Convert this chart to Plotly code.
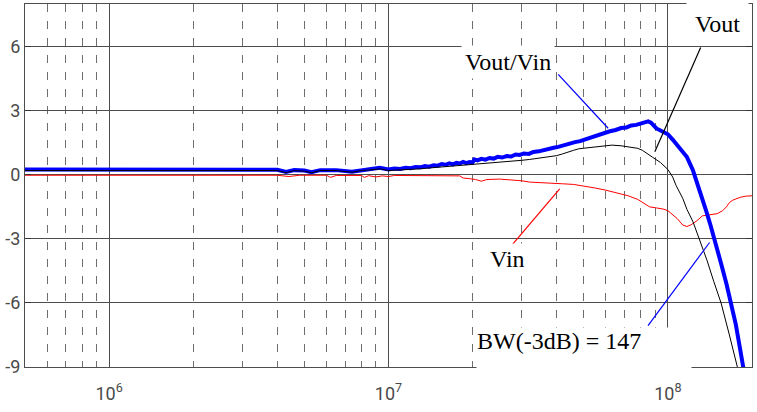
import plotly.graph_objects as go

# ---------------- data ----------------
freq_ratio = [5e5, 7e5, 1e6, 1.5e6, 2e6, 3e6, 4e6, 4.3e6, 4.6e6, 5e6, 5.3e6, 5.7e6, 6.5e6, 7.4e6,
              8e6, 8.8e6, 9.3e6,
              1.00e7, 1.05e7, 1.10e7, 1.15e7, 1.20e7, 1.25e7, 1.30e7, 1.35e7, 1.40e7, 1.45e7,
              1.50e7, 1.55e7, 1.60e7, 1.65e7, 1.70e7, 1.75e7, 1.80e7, 1.85e7, 1.90e7, 1.95e7,
              2.00e7, 2.03e7, 2.08e7, 2.15e7, 2.22e7, 2.30e7, 2.38e7, 2.46e7, 2.55e7, 2.65e7,
              2.75e7, 2.85e7, 2.95e7, 3.05e7, 3.18e7, 3.30e7, 3.45e7, 3.60e7, 3.75e7, 3.90e7,
              4.05e7, 4.25e7, 4.45e7, 4.65e7, 4.85e7, 5.10e7, 5.35e7, 5.60e7, 5.90e7, 6.20e7,
              6.50e7, 6.80e7, 7.10e7, 7.40e7, 7.70e7, 8.00e7, 8.30e7, 8.50e7, 8.70e7, 9.10e7,
              9.60e7, 1.00e8, 1.04e8, 1.07e8, 1.12e8, 1.17e8, 1.23e8, 1.29e8, 1.33e8, 1.37e8,
              1.42e8, 1.47e8, 1.55e8, 1.62e8, 1.69e8, 1.75e8, 1.81e8, 1.86e8, 1.90e8]
vout_vin = [0.25, 0.25, 0.25, 0.25, 0.25, 0.25, 0.24, 0.13, 0.22, 0.20, 0.12, 0.22, 0.22, 0.15,
            0.22, 0.28, 0.33,
            0.25, 0.30, 0.27, 0.33, 0.31, 0.37, 0.35, 0.41, 0.38, 0.45,
            0.43, 0.50, 0.47, 0.54, 0.49, 0.56, 0.53, 0.60, 0.55, 0.60,
            0.58, 0.72, 0.68, 0.75, 0.71, 0.79, 0.76, 0.84, 0.81, 0.88,
            0.86, 0.95, 0.93, 1.00, 0.98, 1.07, 1.10, 1.17, 1.20, 1.27,
            1.31, 1.40, 1.44, 1.53, 1.58, 1.68, 1.76, 1.86, 1.95, 2.04,
            2.10, 2.19, 2.22, 2.31, 2.34, 2.42, 2.47, 2.50, 2.44, 2.17,
            2.02, 1.90, 1.65, 1.46, 1.15, 0.83, 0.20, -0.58, -1.10, -1.68,
            -2.35, -3.00, -4.15, -5.10, -6.05, -7.00, -8.10, -9.00, -9.70]

freq_out = [5e5, 1e6, 2e6, 3e6, 4e6, 4.3e6, 4.6e6, 5e6, 5.3e6, 5.7e6, 6.5e6, 7.4e6, 8e6, 8.8e6,
            9.3e6, 1e7, 1.1e7, 1.2e7, 1.3e7, 1.4e7, 1.5e7, 1.6e7, 1.7e7, 1.8e7, 1.9e7, 2.0e7,
            2.1e7, 2.25e7, 2.4e7, 2.6e7, 2.8e7, 3.0e7, 3.2e7, 3.4e7, 3.7e7, 4.0e7, 4.2e7, 4.4e7,
            4.6e7, 4.8e7, 5.1e7, 5.5e7, 5.9e7, 6.3e7, 6.8e7, 7.3e7, 7.8e7, 8.1e7, 8.5e7, 8.8e7,
            9.4e7, 1.0e8, 1.04e8, 1.07e8, 1.13e8, 1.17e8, 1.23e8, 1.30e8, 1.38e8, 1.46e8, 1.55e8,
            1.66e8, 1.78e8, 1.82e8]
vout = [0.20, 0.20, 0.20, 0.20, 0.20, 0.10, 0.20, 0.17, 0.10, 0.20, 0.20, 0.12, 0.20, 0.24,
        0.28, 0.20, 0.22, 0.26, 0.28, 0.32, 0.35, 0.40, 0.42, 0.46, 0.47, 0.50,
        0.52, 0.54, 0.57, 0.60, 0.63, 0.68, 0.72, 0.76, 0.83, 0.90, 0.98, 1.08,
        1.15, 1.22, 1.26, 1.30, 1.36, 1.39, 1.36, 1.31, 1.24, 1.15, 0.98, 0.83,
        0.58, 0.25, -0.10, -0.50, -1.10, -1.62, -2.20, -3.05, -4.00, -5.00, -6.00,
        -7.50, -9.00, -9.60]

freq_in = [5e5, 1e6, 4e6, 4.4e6, 4.8e6, 6e6, 6.2e6, 6.5e6, 8e6, 8.2e6, 8.5e6, 9e6, 9.5e6, 1e7,
           1.05e7, 1.8e7, 1.85e7, 1.95e7, 2.05e7, 2.15e7, 2.25e7, 2.5e7, 2.8e7, 3.0e7, 3.2e7,
           3.6e7, 3.9e7, 4.2e7, 4.6e7, 5e7, 5.5e7, 6e7, 6.6e7, 7.2e7, 7.8e7, 8.2e7, 8.6e7, 9.1e7,
           9.6e7, 1e8, 1.04e8, 1.08e8, 1.13e8, 1.17e8, 1.21e8, 1.27e8, 1.33e8, 1.40e8, 1.45e8,
           1.50e8, 1.57e8, 1.62e8, 1.66e8, 1.70e8, 1.75e8, 1.82e8, 1.90e8, 2.0e8]
vin = [-0.02, -0.02, -0.02, -0.08, -0.02, -0.02, -0.12, -0.03, -0.03, -0.12, -0.04, -0.10, -0.05,
       -0.08, -0.03, -0.05, -0.15, -0.18, -0.22, -0.30, -0.22, -0.20, -0.24, -0.28, -0.34,
       -0.36, -0.38, -0.42, -0.45, -0.52, -0.62, -0.72, -0.85, -0.98, -1.15, -1.35, -1.50, -1.55,
       -1.60, -1.68, -1.85, -2.05, -2.35, -2.42, -2.34, -2.15, -1.92, -1.88, -1.87,
       -1.82, -1.68, -1.50, -1.30, -1.20, -1.13, -1.05, -1.00, -0.98]

y_ticks = [-9, -6, -3, 0, 3, 6]
decades = [1e6, 1e7, 1e8]
decade_labels = ["10<sup>6</sup>", "10<sup>7</sup>", "10<sup>8</sup>"]
minor_grid = [6e5, 7e5, 8e5, 9e5,
              2e6, 3e6, 4e6, 5e6, 6e6, 7e6, 8e6, 9e6,
              2e7, 3e7, 4e7, 5e7, 6e7, 7e7, 8e7, 9e7]

# leader lines for labels (data coordinates)
lead_ratio_f = [4.05e7, 6.11e7]
lead_ratio_y = [4.70, 2.18]
lead_out_f = [1.31e8, 8.98e7]
lead_out_y = [5.96, 1.08]
lead_in_f = [2.75e7, 4.10e7]
lead_in_y = [-3.33, -0.66]
lead_bw_f = [8.49e7, 1.41e8]
lead_bw_y = [-7.06, -3.17]

# ---------------- figure ----------------
fig = go.Figure()
fig.add_trace(go.Scatter(x=freq_in, y=vin, mode="lines",
                         line=dict(color="rgb(255,0,0)", width=1)))
fig.add_trace(go.Scatter(x=freq_ratio, y=vout_vin, mode="lines",
                         line=dict(color="rgb(0,0,255)", width=4)))
fig.add_trace(go.Scatter(x=freq_out, y=vout, mode="lines",
                         line=dict(color="black", width=1)))
for fx, fy, c in [(lead_ratio_f, lead_ratio_y, "rgb(0,0,255)"),
                  (lead_out_f, lead_out_y, "black"),
                  (lead_in_f, lead_in_y, "rgb(255,0,0)"),
                  (lead_bw_f, lead_bw_y, "rgb(0,0,255)")]:
    fig.add_trace(go.Scatter(x=fx, y=fy, mode="lines", line=dict(color=c, width=1.2)))

tickfont = dict(family="Liberation Sans Narrow, Roboto, Arial", size=18, color="#4a4a4a")

fig.update_layout(
    width=757, height=412,
    margin=dict(l=25, r=5, t=4, b=45),
    paper_bgcolor="white", plot_bgcolor="white",
    showlegend=False,
    xaxis=dict(type="log", range=[5.69897, 8.30103], automargin=False,
               tickmode="array", tickvals=decades, ticktext=decade_labels,
               showgrid=True, gridcolor="#4d4d4d", gridwidth=1,
               minor=dict(tickmode="array", tickvals=minor_grid, showgrid=True,
                          gridcolor="#6e6e6e", gridwidth=1, griddash="8px,9px", ticks=""),
               showline=True, linecolor="#4d4d4d", linewidth=1, mirror=True,
               ticks="outside", ticklen=10, tickcolor="rgba(0,0,0,0)",
               tickfont=tickfont, zeroline=False),
    yaxis=dict(range=[-9, 8], tickmode="array", tickvals=y_ticks, automargin=False,
               ticktext=[str(v) for v in y_ticks],
               showgrid=True, gridcolor="#4d4d4d", gridwidth=1,
               showline=True, linecolor="#4d4d4d", linewidth=1, mirror="ticks",
               ticks="inside", ticklen=6, tickcolor="#333333",
               tickfont=tickfont, zeroline=False),
)

serif = dict(family="Liberation Serif, Times New Roman, serif", size=24, color="black")


def px_x(p):
    return (p - 25) / 727.0


def px_y(p):
    return (367 - p) / 363.0


fig.add_annotation(xref="paper", yref="paper", x=px_x(508), y=px_y(62), text="Vout/Vin",
                   xanchor="center", yanchor="middle",
                   showarrow=False, font=serif, bgcolor="white", borderpad=3)
fig.add_annotation(xref="paper", yref="paper", x=px_x(717), y=px_y(24), text="Vout",
                   xanchor="center", yanchor="middle",
                   showarrow=False, font=serif, bgcolor="white", borderpad=8)
fig.add_annotation(xref="paper", yref="paper", x=px_x(508), y=px_y(259), text="Vin",
                   xanchor="center", yanchor="middle",
                   showarrow=False, font=serif, bgcolor="white", borderpad=2)
fig.add_annotation(xref="paper", yref="paper", x=px_x(476), y=px_y(327),
                   xanchor="left", yanchor="top", width=214, height=46,
                   align="left", valign="top", text="BW(-3dB) = 147",
                   showarrow=False, font=serif, bgcolor="white", borderpad=0)

fig.write_html("out.html", config={"displayModeBar": False},
               post_script="document.body.style.margin='0px';document.body.style.padding='0px';")
